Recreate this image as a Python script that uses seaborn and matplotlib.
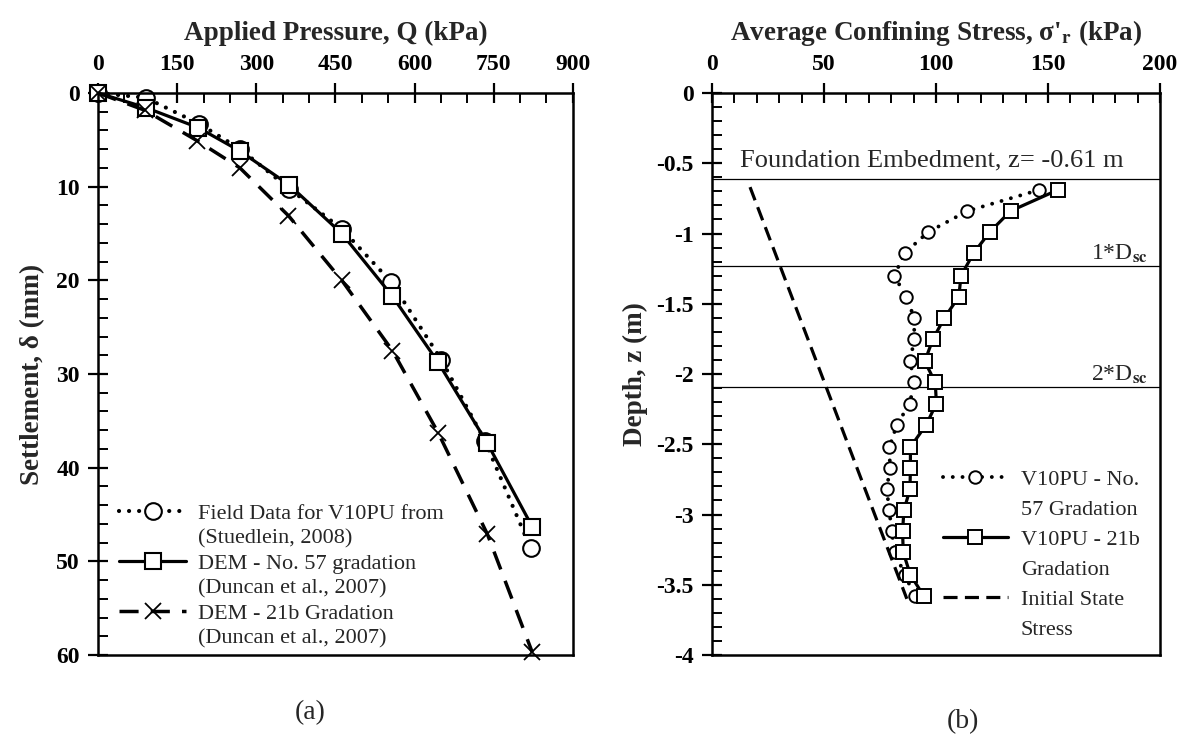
import matplotlib
matplotlib.use("Agg")
import matplotlib.pyplot as plt
from matplotlib.ticker import MultipleLocator, FuncFormatter
from matplotlib.lines import Line2D
import seaborn as sns

# (a) load - settlement curves
q_field = [0, 90, 192, 270, 362, 462, 556, 651, 733, 820]
s_field = [0, 0.5, 3.3, 6.0, 10.2, 14.5, 20.2, 28.5, 37.1, 48.6]
q_dem57 = [0, 90, 190, 269, 362, 462, 558, 644, 738, 823]
s_dem57 = [0, 1.55, 3.7, 6.2, 9.8, 15.0, 21.7, 28.7, 37.4, 46.3]
q_dem21b = [0, 89, 188, 269, 361, 462, 558, 645, 738, 823]
s_dem21b = [0, 1.85, 5.1, 8.0, 13.1, 20.0, 27.5, 36.3, 47.1, 59.7]

# (b) confining stress with depth
depth = [-0.69, -0.84, -0.99, -1.14, -1.30, -1.45, -1.60, -1.75, -1.91, -2.06,
         -2.21, -2.36, -2.52, -2.67, -2.82, -2.97, -3.12, -3.27, -3.43, -3.58]
stress_57 = [146, 114, 96.5, 86, 81.4, 86.7, 90.3, 90.3, 88.5, 90.3,
             88.3, 82.6, 79.2, 79.5, 78, 79.2, 80.2, 81.7, 86.1, 90.6]
stress_21b = [154.4, 133.3, 124, 116.8, 111.2, 110.2, 103.8, 98.7, 95, 99.7,
              100.2, 95.7, 88.6, 88.6, 88.4, 85.7, 85.1, 85.4, 88.6, 94.6]
depth_init = [-0.67, -3.60]
stress_init = [17, 87]
z_embed = -0.61
z_dsc1 = -1.23
z_dsc2 = -2.09

sns.set_theme(style="ticks")
plt.rcParams["font.family"] = ["Liberation Serif", "DejaVu Serif"]
plt.rcParams["font.weight"] = "bold"
plt.rcParams["axes.labelweight"] = "bold"
plt.rcParams["mathtext.fontset"] = "stix"
plt.rcParams["axes.unicode_minus"] = False

fig = plt.figure(figsize=(11.87, 7.34), dpi=100)
ax1 = fig.add_axes([0.0826, 0.1076, 0.400, 0.7657])
ax2 = fig.add_axes([0.5998, 0.1076, 0.3774, 0.7657])

common = dict(color="black", sort=False, estimator=None, legend=False,
              clip_on=False, mfc="white", mec="black")

# --- panel (a)
sns.lineplot(x=q_field, y=s_field, ax=ax1, linestyle=(0, (0.01, 2.4)), lw=3.0,
             dash_capstyle="round", marker="o", ms=12, mew=1.5, **common)
sns.lineplot(x=q_dem57, y=s_dem57, ax=ax1, linestyle="-", lw=2.3,
             marker="s", ms=11, mew=1.5, **common)
sns.lineplot(x=q_dem21b, y=s_dem21b, ax=ax1, linestyle=(0, (5.5, 3.5)), lw=2.5,
             marker="x", ms=11, mew=1.3, **common)

ax1.set_xlim(0, 900)
ax1.set_ylim(60, 0)
ax1.xaxis.set_major_locator(MultipleLocator(150))
ax1.xaxis.set_minor_locator(MultipleLocator(50))
ax1.yaxis.set_major_locator(MultipleLocator(10))
ax1.yaxis.set_minor_locator(MultipleLocator(2))
ax1.xaxis.tick_top()
ax1.xaxis.set_label_position("top")
ax1.set_xlabel("Applied Pressure, Q (kPa)", fontsize=19.5, labelpad=10)
ax1.set_ylabel("Settlement, δ (mm)", fontsize=19.5, labelpad=8)

blank = Line2D([], [], linestyle="none")
l1 = ax1.lines
ax1.legend([l1[0], blank, l1[1], blank, l1[2], blank],
           ["Field Data for V10PU from", "(Stuedlein, 2008)",
            "DEM - No. 57 gradation", "(Duncan et al., 2007)",
            "DEM - 21b Gradation", "(Duncan et al., 2007)"],
           loc="upper left", bbox_to_anchor=(0.045, 0.27), frameon=False,
           prop={"size": 16, "weight": "normal"}, borderpad=0, borderaxespad=0,
           handlelength=3.0, handletextpad=0.55, labelspacing=0.2)

# --- panel (b)
sns.lineplot(x=stress_57, y=depth, ax=ax2, linestyle=(0, (0.01, 2.5)), lw=2.8,
             dash_capstyle="round", marker="o", ms=9, mew=1.4, **common)
sns.lineplot(x=stress_21b, y=depth, ax=ax2, linestyle="-", lw=2.3,
             marker="s", ms=9.5, mew=1.4, **common)
sns.lineplot(x=stress_init, y=depth_init, ax=ax2, linestyle=(0, (4.4, 2.3)),
             lw=2.3, **common)

for z in (z_embed, z_dsc1, z_dsc2):
    ax2.axhline(z, color="black", lw=0.9, zorder=1)

ax2.set_xlim(0, 200)
ax2.set_ylim(-4, 0)
ax2.xaxis.set_major_locator(MultipleLocator(50))
ax2.xaxis.set_minor_locator(MultipleLocator(10))
ax2.yaxis.set_major_locator(MultipleLocator(0.5))
ax2.yaxis.set_minor_locator(MultipleLocator(0.1))
ax2.yaxis.set_major_formatter(FuncFormatter(lambda v, p: f"{v:g}"))
ax2.xaxis.tick_top()
ax2.xaxis.set_label_position("top")
ax2.set_xlabel(r"Average Confining Stress, σ'$_\mathbf{r}$ (kPa)", fontsize=19.5,
               labelpad=10)
ax2.set_ylabel("Depth, z (m)", fontsize=19.5, labelpad=6)

ax2.text(0.0625, z_embed + 0.09, "Foundation Embedment, z= -0.61 m",
         transform=ax2.get_yaxis_transform(), fontsize=19, fontweight="normal",
         va="baseline", ha="left")
ax2.text(0.972, z_dsc1 + 0.04, r"1*D$_{\mathrm{sc}}$", transform=ax2.get_yaxis_transform(),
         fontsize=17, fontweight="normal", va="baseline", ha="right")
ax2.text(0.972, z_dsc2 + 0.04, r"2*D$_{\mathrm{sc}}$", transform=ax2.get_yaxis_transform(),
         fontsize=17, fontweight="normal", va="baseline", ha="right")

l2 = ax2.lines
ax2.legend([l2[0], blank, l2[1], blank, l2[2], blank],
           ["V10PU - No.", "57 Gradation", "V10PU - 21b", "Gradation",
            "Initial State", "Stress"],
           loc="upper left", bbox_to_anchor=(0.516, 0.33), frameon=False,
           prop={"size": 16, "weight": "normal"}, borderpad=0, borderaxespad=0,
           handlelength=2.9, handletextpad=0.6, labelspacing=0.42)

for ax in (ax1, ax2):
    for sp in ax.spines.values():
        sp.set_visible(True)
        sp.set_linewidth(1.8)
        sp.set_color("black")
    ax.tick_params(which="major", direction="inout", length=14, width=1.6,
                   labelsize=17, colors="black", top=True, bottom=False,
                   left=True, right=False, pad=6)
    ax.tick_params(which="minor", direction="in", length=7, width=1.4,
                   colors="black", top=True, bottom=False, left=True, right=False)
    ax.grid(False)

fig.text(310 / 1187, 1 - 713 / 734, "(a)", ha="center", va="center",
         fontsize=20, fontweight="normal")
fig.text(963 / 1187, 1 - 722 / 734, "(b)", ha="center", va="center",
         fontsize=20, fontweight="normal")

fig.savefig("out.png", dpi=100, facecolor="white")
